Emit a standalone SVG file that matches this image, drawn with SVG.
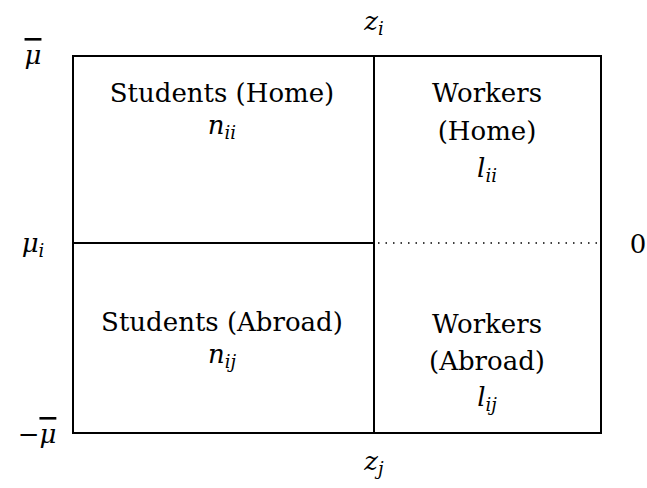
<svg xmlns="http://www.w3.org/2000/svg" width="647" height="488" viewBox="0 0 647 488">
<style>
text{font-family:'DejaVu Serif', serif;font-size:26px;fill:#000;text-anchor:middle}
.m{font-style:italic}
.s{font-size:18px;font-style:italic}
.ln{stroke:#000;stroke-width:2;fill:none}
</style>
<rect width="647" height="488" fill="#fff"/>
<g id="connectors">
<rect class="ln" x="73" y="56" width="528" height="377"/>
<line class="ln" x1="374" y1="56" x2="374" y2="433"/>
<line class="ln" x1="73" y1="243" x2="374" y2="243"/>
<line x1="378" y1="243" x2="601" y2="243" stroke="#000" stroke-width="1.5" stroke-dasharray="1.5 6"/>
</g>
<g id="students-home"><text x="222" y="102">Students (Home)</text><text x="222" y="134" class="m">n<tspan class="s" dy="5">ii</tspan></text></g>
<g id="workers-home"><text x="487" y="102">Workers</text><text x="487" y="140">(Home)</text><text x="487" y="177" class="m">l<tspan class="s" dy="5">ii</tspan></text></g>
<g id="students-abroad"><text x="222" y="331">Students (Abroad)</text><text x="222" y="363" class="m">n<tspan class="s" dy="5">ij</tspan></text></g>
<g id="workers-abroad"><text x="487" y="333">Workers</text><text x="487" y="370">(Abroad)</text><text x="487" y="406" class="m">l<tspan class="s" dy="5">ij</tspan></text></g>
<g id="labels">
<text x="374" y="30" class="m">z<tspan class="s" dy="5">i</tspan></text>
<text x="374" y="470" class="m">z<tspan class="s" dy="5">j</tspan></text>
<text x="33" y="64" class="m" text-decoration="overline">μ</text>
<text x="33" y="252" class="m">μ<tspan class="s" dy="5">i</tspan></text>
<text x="638" y="253">0</text>
<text x="37" y="443" class="m"><tspan font-style="normal">−</tspan><tspan text-decoration="overline">μ</tspan></text>
</g>
</svg>
